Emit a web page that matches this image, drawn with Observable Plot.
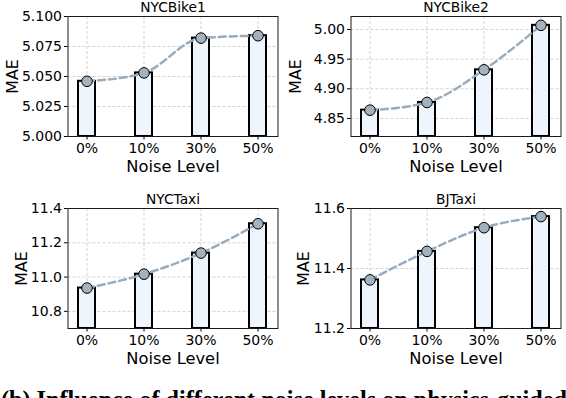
<!DOCTYPE html>
<html>
<head>
<meta charset="utf-8">
<script src="https://cdn.jsdelivr.net/npm/d3@7"></script>
<script src="https://cdn.jsdelivr.net/npm/@observablehq/plot@0.6"></script>
<style>
  html, body { margin: 0; padding: 0; background: #fff; }
  #wrap { position: relative; width: 566px; height: 398px; overflow: hidden; background: #fff; }
  .panel { position: absolute; }
  #caption {
    position: absolute; left: 1px; top: 388px; white-space: nowrap;
    font-family: "Liberation Serif", "Times New Roman", serif; font-weight: bold;
    font-size: 24.2px; line-height: 24px; color: #000;
  }
</style>
</head>
<body>
<div id="wrap">
  <div id="caption">(b) Influence of different noise levels on physics-guided</div>
</div>
<script>
// ---- data ----
const levels = ["0%", "10%", "30%", "50%"];
const titles = ["NYCBike1", "NYCBike2", "NYCTaxi", "BJTaxi"];
const nycBike1 = [5.046, 5.053, 5.082, 5.084];
const nycBike2 = [4.864, 4.877, 4.932, 5.007];
const nycTaxi = [10.936, 11.017, 11.140, 11.311];
const bjTaxi = [11.362, 11.457, 11.536, 11.573];
const ticksBike1 = [5.000, 5.025, 5.050, 5.075, 5.100];
const ticksBike2 = [4.85, 4.90, 4.95, 5.00];
const ticksTaxi = [10.8, 11.0, 11.2, 11.4];
const ticksBJ = [11.2, 11.4, 11.6];
const domBike1 = [5.000, 5.100];
const domBike2 = [4.8196, 5.0219];
const domTaxi = [10.70, 11.40];
const domBJ = [11.2, 11.6];
const xLabel = "Noise Level";
const yLabel = "MAE";

const panels = [
  {title: titles[0], values: nycBike1, ticks: ticksBike1, domain: domBike1, fmt: ".3f", left: 0, top: 0, h: 180, mt: 16, mb: 44, ylx: -55},
  {title: titles[1], values: nycBike2, ticks: ticksBike2, domain: domBike2, fmt: ".2f", left: 283, top: 0, h: 180, mt: 16, mb: 44, ylx: -55},
  {title: titles[2], values: nycTaxi, ticks: ticksTaxi, domain: domTaxi, fmt: ".1f", left: 0, top: 180, h: 218, mt: 28, mb: 70, ylx: -46.5},
  {title: titles[3], values: bjTaxi, ticks: ticksBJ, domain: domBJ, fmt: ".1f", left: 283, top: 180, h: 218, mt: 28, mb: 70, ylx: -47}
];

const wrap = document.getElementById("wrap");
for (const p of panels) {
  const data = levels.map((l, i) => ({level: l, mae: p.values[i]}));
  const chart = Plot.plot({
    width: 283,
    height: p.h,
    marginLeft: 67.5,
    marginRight: 5.5,
    marginTop: p.mt,
    marginBottom: p.mb,
    style: {fontFamily: "DejaVu Sans, sans-serif", fontSize: "14px", color: "#000", background: "transparent", overflow: "visible"},
    x: {type: "band", domain: levels, paddingInner: 0.7, paddingOuter: 0.165, label: null},
    y: {domain: p.domain, label: null},
    marks: [
      Plot.gridX({stroke: "#c8c8c8", strokeOpacity: 1, strokeDasharray: "3,2", strokeWidth: 0.8}),
      Plot.gridY(p.ticks, {stroke: "#c8c8c8", strokeOpacity: 1, strokeDasharray: "3,2", strokeWidth: 0.8}),
      Plot.barY(data, {x: "level", y1: p.domain[0], y2: "mae", fill: "#eef5fc", stroke: "#000", strokeWidth: 2}),
      Plot.line(data, {x: "level", y: "mae", stroke: "#9aacbb", strokeWidth: 2.5, strokeDasharray: "7,4", curve: "monotone-x"}),
      Plot.dot(data, {x: "level", y: "mae", r: 5.3, fill: "#a2b2be", stroke: "#000", strokeWidth: 1}),
      Plot.frame({stroke: "#1a1a1a", strokeWidth: 1}),
      Plot.axisX({tickSize: 3.5, tickPadding: 3.5, label: null}),
      Plot.axisY(p.ticks, {tickSize: 3.5, tickPadding: 2.5, tickFormat: d3.format(p.fmt), label: null}),
      Plot.text([p.title], {text: d => d, frameAnchor: "top", lineAnchor: "bottom", dy: -4.3, fontSize: 13.8}),
      Plot.text([xLabel], {text: d => d, frameAnchor: "bottom", lineAnchor: "bottom", dy: 35, fontSize: 16.3}),
      Plot.text([yLabel], {text: d => d, frameAnchor: "left", lineAnchor: "middle", textAnchor: "middle", rotate: -90, dx: p.ylx, fontSize: 15.8})
    ]
  });
  const div = document.createElement("div");
  div.className = "panel";
  div.style.left = p.left + "px";
  div.style.top = p.top + "px";
  div.appendChild(chart);
  wrap.insertBefore(div, wrap.firstChild);
}
</script>
</body>
</html>
